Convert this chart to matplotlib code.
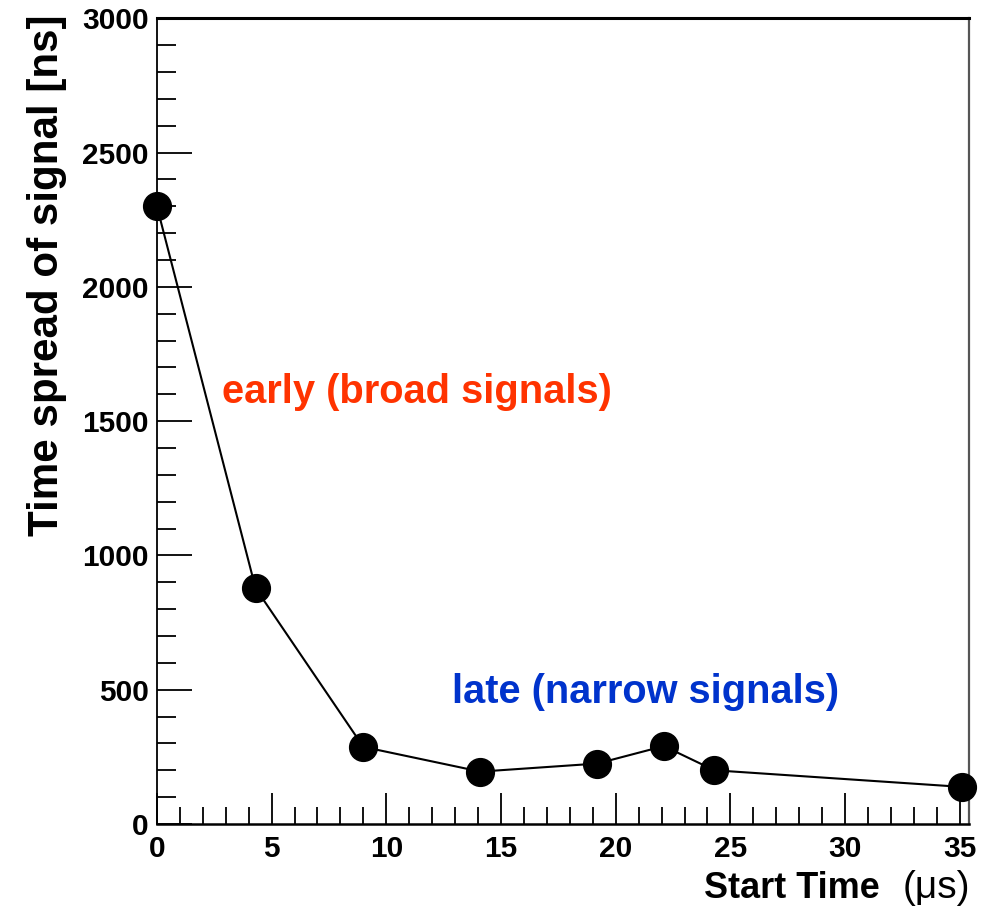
import matplotlib
matplotlib.use("Agg")
import matplotlib.pyplot as plt
from matplotlib.ticker import MultipleLocator

# Measured time spread of the signal versus its start time
start_time_us = [0.0, 4.3, 9.0, 14.1, 19.2, 22.1, 24.3, 35.1]
spread_ns = [2300, 878, 287, 195, 225, 290, 200, 138]

x_major = [0, 5, 10, 15, 20, 25, 30, 35]
y_major = [0, 500, 1000, 1500, 2000, 2500, 3000]

plt.rcParams["font.family"] = ["Liberation Sans", "DejaVu Sans"]

fig = plt.figure(figsize=(9.93, 9.13), dpi=100)
ax = fig.add_axes([0.158, 0.0975, 0.8178, 0.8825])

ax.plot(start_time_us, spread_ns, color="black", lw=1.5, marker="o",
        markersize=20, markerfacecolor="black", markeredgecolor="black",
        zorder=3, clip_on=False)

ax.set_xlim(0, 35.4)
ax.set_ylim(0, 3000)
ax.set_xticks(x_major)
ax.set_yticks(y_major)
ax.xaxis.set_minor_locator(MultipleLocator(1))
ax.yaxis.set_minor_locator(MultipleLocator(100))

ax.tick_params(axis="both", which="both", direction="in", top=False, right=False)
ax.tick_params(axis="x", which="major", length=22, width=1.3, pad=8)
ax.tick_params(axis="x", which="minor", length=12, width=1.3)
ax.tick_params(axis="y", which="major", length=25, width=1.3, pad=6)
ax.tick_params(axis="y", which="minor", length=14, width=1.3)

for lbl in ax.get_xticklabels() + ax.get_yticklabels():
    lbl.set_fontsize(21.5)
    lbl.set_fontweight("bold")

ax.spines["left"].set_linewidth(1.3)
ax.spines["bottom"].set_linewidth(1.8)
ax.spines["top"].set_linewidth(2.2)
ax.spines["right"].set_linewidth(1.6)
ax.spines["right"].set_color("#555555")

fig.text(0.0473, 0.698, "Time spread of signal [ns]", fontsize=30.3,
         fontweight="bold", rotation=90, ha="center", va="center")

fig.text(0.886, 0.0164, "Start Time", fontsize=25.9, fontweight="bold",
         ha="right", va="baseline")
fig.text(0.909, 0.0164, "(\u03bcs)", fontsize=28, ha="left", va="baseline")

ax.text(2.83, 1608, "early (broad signals)", color="#ff3300", fontsize=28.7,
        fontweight="bold", ha="left", va="center")
ax.text(12.86, 491, "late (narrow signals)", color="#0033cc", fontsize=28.6,
        fontweight="bold", ha="left", va="center")

fig.savefig("out.png", dpi=100, facecolor="white")
